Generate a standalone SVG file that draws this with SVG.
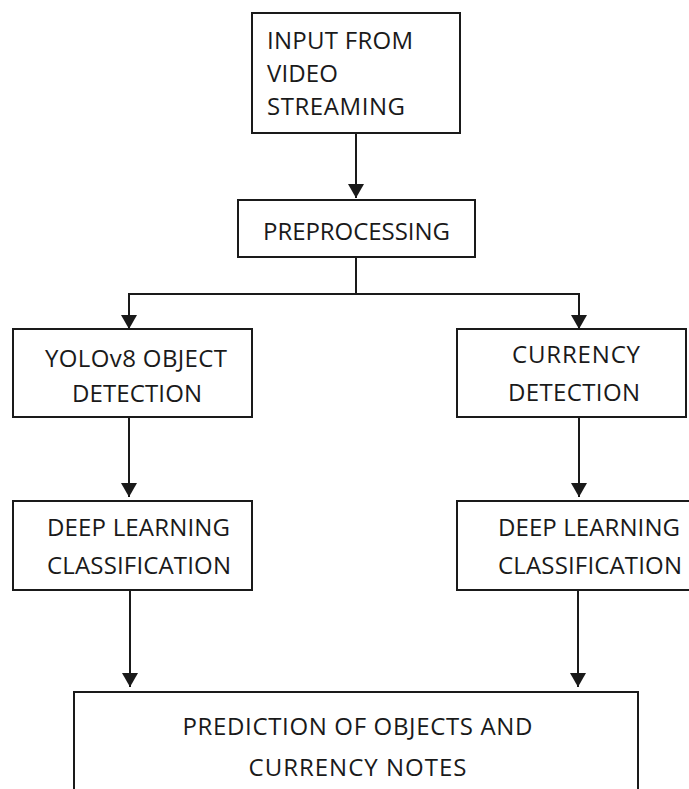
<svg xmlns="http://www.w3.org/2000/svg" width="689" height="789" viewBox="0 0 689 789">
  <defs>
    <marker id="arrow" markerWidth="16" markerHeight="17" refX="14" refY="8" orient="auto" markerUnits="userSpaceOnUse">
      <path d="M0,0 L14,8 L0,16 Z" fill="#1a1a1a"/>
    </marker>
  </defs>
  <style>
    .box { fill: #ffffff; stroke: #1a1a1a; stroke-width: 2; }
    .lbl { font-family: "Open Sans", "Noto Sans", "DejaVu Sans", sans-serif; font-size: 24px; fill: #1a1a1a; }
    .mid { text-anchor: middle; }
    .wire { fill: none; stroke: #1a1a1a; stroke-width: 2; }
  </style>
  <rect width="689" height="789" fill="#ffffff"/>

  <g id="connectors">
    <line class="wire" x1="356" y1="133" x2="356" y2="198" marker-end="url(#arrow)"/>
    <path class="wire" d="M356,257 V294 H129 V329" marker-end="url(#arrow)"/>
    <path class="wire" d="M356,294 H579 V329" marker-end="url(#arrow)"/>
    <line class="wire" x1="129" y1="417" x2="129" y2="497" marker-end="url(#arrow)"/>
    <line class="wire" x1="579" y1="417" x2="579" y2="497" marker-end="url(#arrow)"/>
    <line class="wire" x1="130" y1="590" x2="130" y2="687" marker-end="url(#arrow)"/>
    <line class="wire" x1="578" y1="590" x2="578" y2="687" marker-end="url(#arrow)"/>
  </g>

  <g id="input">
    <rect class="box" x="252" y="13" width="208" height="120"/>
    <text class="lbl" x="267" y="49" textLength="146" lengthAdjust="spacing">INPUT FROM</text>
    <text class="lbl" x="267" y="82" textLength="71" lengthAdjust="spacing">VIDEO</text>
    <text class="lbl" x="267" y="115" textLength="138" lengthAdjust="spacing">STREAMING</text>
  </g>

  <g id="preprocessing">
    <rect class="box" x="238" y="200" width="237" height="57"/>
    <text class="lbl mid" x="356.5" y="240" textLength="187" lengthAdjust="spacing">PREPROCESSING</text>
  </g>

  <g id="yolo">
    <rect class="box" x="13" y="329" width="239" height="88"/>
    <text class="lbl mid" x="136" y="367" textLength="182" lengthAdjust="spacing">YOLOv8 OBJECT</text>
    <text class="lbl mid" x="137" y="402" textLength="130" lengthAdjust="spacing">DETECTION</text>
  </g>

  <g id="currency">
    <rect class="box" x="457" y="329" width="229" height="88"/>
    <text class="lbl mid" x="576" y="363" textLength="128" lengthAdjust="spacing">CURRENCY</text>
    <text class="lbl mid" x="574" y="401" textLength="132" lengthAdjust="spacing">DETECTION</text>
  </g>

  <g id="dl-left">
    <rect class="box" x="13" y="501" width="239" height="89"/>
    <text class="lbl mid" x="138.5" y="536" textLength="183" lengthAdjust="spacing">DEEP LEARNING</text>
    <text class="lbl mid" x="139" y="574" textLength="184" lengthAdjust="spacing">CLASSIFICATION</text>
  </g>

  <g id="dl-right">
    <rect class="box" x="457" y="501" width="240" height="89"/>
    <text class="lbl mid" x="589" y="536" textLength="182" lengthAdjust="spacing">DEEP LEARNING</text>
    <text class="lbl mid" x="590" y="574" textLength="184" lengthAdjust="spacing">CLASSIFICATION</text>
  </g>

  <g id="prediction">
    <rect class="box" x="74" y="692" width="564" height="120"/>
    <text class="lbl mid" x="357.5" y="735" textLength="350" lengthAdjust="spacing">PREDICTION OF OBJECTS AND</text>
    <text class="lbl mid" x="357.5" y="776" textLength="218" lengthAdjust="spacing">CURRENCY NOTES</text>
  </g>
</svg>
